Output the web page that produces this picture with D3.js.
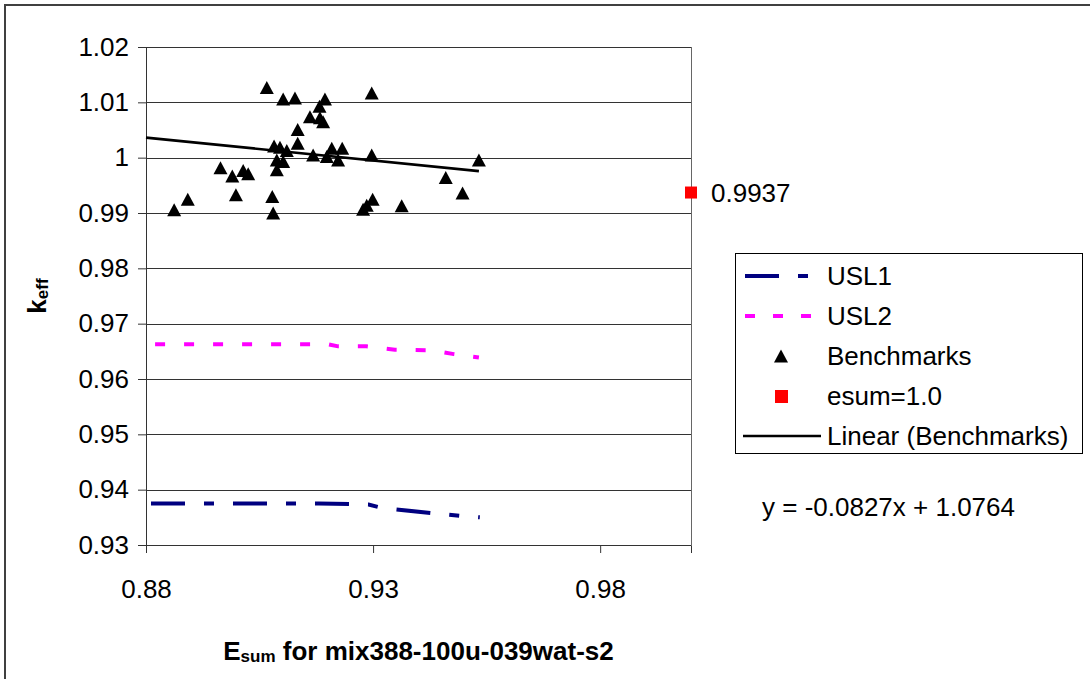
<!DOCTYPE html>
<html>
<head>
<meta charset="utf-8">
<script src="https://cdn.jsdelivr.net/npm/d3@7"></script>
<style>
  body { margin: 0; background: #fff; }
  svg { display: block; font-family: 'Liberation Sans', Arial, sans-serif; }
</style>
</head>
<body>
<svg width="1090" height="679"></svg>
<script>
// benchmark points (Esum, keff)
var benchX = [0.8862, 0.8892, 0.8964, 0.8990, 0.8998, 0.9014, 0.9025, 0.9066, 0.9078, 0.9080,
              0.9082, 0.9088, 0.9088, 0.9095, 0.9102, 0.9102, 0.9110, 0.9128, 0.9134, 0.9134,
              0.9161, 0.9168, 0.9182, 0.9183, 0.9190, 0.9194, 0.9198, 0.9209, 0.9223, 0.9232,
              0.9278, 0.9286, 0.9297, 0.9297, 0.9299, 0.9363, 0.9460, 0.9497, 0.9533]
var benchY = [0.9906, 0.9925, 0.9982, 0.9967, 0.9933, 0.9977, 0.9971, 1.0127, 0.9930, 0.9900,
              1.0021, 0.9996, 0.9978, 1.0019, 1.0106, 0.9993, 1.0013, 1.0108, 1.0051, 1.0026,
              1.0074, 1.0005, 1.0093, 1.0072, 1.0065, 1.0106, 1.0002, 1.0017, 0.9996, 1.0017,
              0.9907, 0.9914, 1.0117, 1.0005, 0.9925, 0.9913, 0.9964, 0.9936, 0.9996]

// upper subcritical limits
var usl1X = [0.8811, 0.9180, 0.9250, 0.9290, 0.9320, 0.9450, 0.9500, 0.9535]
var usl1Y = [0.9375, 0.9375, 0.9374, 0.9373, 0.9367, 0.9356, 0.9352, 0.9350]
var usl2X = [0.8820, 0.9200, 0.9223, 0.9285, 0.9348, 0.9425, 0.9478, 0.9533]
var usl2Y = [0.9663, 0.9663, 0.9659, 0.9659, 0.9653, 0.9652, 0.9645, 0.9639]

// esum = 1.0 point
var esumX = [1.0]
var esumY = [0.9937]

// linear trendline of the benchmarks
var trendSlope = -0.0827, trendIntercept = 1.0764
var trendX = [0.88, 0.9533]

var xTicks = [0.88, 0.93, 0.98]
var xTickLabels = ['0.88', '0.93', '0.98']
var yTicks = [0.93, 0.94, 0.95, 0.96, 0.97, 0.98, 0.99, 1.0, 1.01, 1.02]
var yTickLabels = ['0.93', '0.94', '0.95', '0.96', '0.97', '0.98', '0.99', '1', '1.01', '1.02']

var svg = d3.select('svg')
var fs = 26

var x = d3.scaleLinear().domain([0.88, 1.0]).range([146, 691])
var y = d3.scaleLinear().domain([0.93, 1.02]).range([545, 47])

// outer chart border (right / bottom fall outside the picture)
svg.append('rect')
    .attr('x', 5).attr('y', 5).attr('width', 1110).attr('height', 700)
    .attr('fill', 'none').attr('stroke', '#404040').attr('stroke-width', 2)

// gridlines
svg.append('g').selectAll('line')
    .data(yTicks)
  .enter().append('line')
    .attr('x1', x(0.88)).attr('x2', x(1.0))
    .attr('y1', function(d) { return Math.round(y(d)) + 0.5 })
    .attr('y2', function(d) { return Math.round(y(d)) + 0.5 })
    .attr('stroke', '#333').attr('stroke-width', 1)

svg.append('line')
    .attr('x1', x(1.0) + 0.5).attr('x2', x(1.0) + 0.5)
    .attr('y1', y(1.02)).attr('y2', y(0.93))
    .attr('stroke', '#666')

// axes
var yAxis = svg.append('g')
    .attr('transform', 'translate(' + x(0.88) + ',0)')
    .call(d3.axisLeft(y).tickValues(yTicks).tickSize(8).tickPadding(9)
      .tickFormat(function(d, i) { return yTickLabels[i] }))
var xAxis = svg.append('g')
    .attr('transform', 'translate(0,' + y(0.93) + ')')
    .call(d3.axisBottom(x).tickValues(xTicks).tickSize(8).tickPadding(27)
      .tickFormat(function(d, i) { return xTickLabels[i] }))

svg.selectAll('.domain').attr('stroke', '#333')
svg.selectAll('.tick line').attr('stroke', '#333')
svg.selectAll('.tick text')
    .attr('font-family', "'Liberation Sans', Arial, sans-serif")
    .attr('font-size', fs).attr('fill', '#000')

// USL lines
var line = d3.line()
    .x(function(d) { return x(d[0]) })
    .y(function(d) { return y(d[1]) })

svg.append('path')
    .datum(d3.zip(usl1X, usl1Y))
    .attr('d', line)
    .attr('fill', 'none').attr('stroke', '#000080').attr('stroke-width', 4)
    .attr('stroke-dasharray', '34,19,10,19')

svg.append('path')
    .datum(d3.zip(usl2X, usl2Y))
    .attr('d', line)
    .attr('fill', 'none').attr('stroke', '#ff00ff').attr('stroke-width', 4)
    .attr('stroke-dasharray', '10,19')

// trendline
svg.append('path')
    .datum(trendX.map(function(v) { return [v, trendSlope * v + trendIntercept] }))
    .attr('d', line)
    .attr('fill', 'none').attr('stroke', '#000').attr('stroke-width', 2.7)

// benchmarks
var tri = 'M0,-6.5L7,6.5L-7,6.5Z'
svg.append('g').selectAll('path')
    .data(d3.zip(benchX, benchY))
  .enter().append('path')
    .attr('d', tri)
    .attr('transform', function(d) { return 'translate(' + x(d[0]) + ',' + y(d[1]) + ')' })
    .attr('fill', '#000')

// esum point
svg.append('g').selectAll('rect')
    .data(d3.zip(esumX, esumY))
  .enter().append('rect')
    .attr('x', function(d) { return x(d[0]) - 6 })
    .attr('y', function(d) { return y(d[1]) - 6 })
    .attr('width', 12).attr('height', 12)
    .attr('fill', '#ff0000')

svg.append('text')
    .attr('x', x(esumX[0]) + 20).attr('y', y(esumY[0]))
    .attr('dy', '0.35em')
    .attr('font-size', fs)
    .text(d3.format('.4f')(esumY[0]))

// axis titles
var xt = svg.append('text')
    .attr('x', (x(0.88) + x(1.0)) / 2).attr('y', 660)
    .attr('text-anchor', 'middle')
    .attr('font-size', fs).attr('font-weight', 'bold')
xt.append('tspan').text('E')
xt.append('tspan').attr('font-size', 17).attr('dy', 2).text('sum')
xt.append('tspan').attr('dy', -2).text(' for mix388-100u-039wat-s2')

var yt = svg.append('text')
    .attr('transform', 'translate(46,' + (y(0.93) + y(1.02)) / 2 + ') rotate(-90)')
    .attr('text-anchor', 'middle')
    .attr('font-size', fs).attr('font-weight', 'bold')
yt.append('tspan').text('k')
yt.append('tspan').attr('font-size', 17).attr('dy', 2).text('eff')

// legend
var legend = svg.append('g').attr('transform', 'translate(735,253)')
legend.append('rect')
    .attr('x', 0.5).attr('y', 0.5).attr('width', 347).attr('height', 200)
    .attr('fill', '#fff').attr('stroke', '#000')

var items = [
  { label: 'USL1', type: 'usl1' },
  { label: 'USL2', type: 'usl2' },
  { label: 'Benchmarks', type: 'tri' },
  { label: 'esum=1.0', type: 'sq' },
  { label: 'Linear (Benchmarks)', type: 'trend' }
]

var row = legend.selectAll('.item')
    .data(items)
  .enter().append('g')
    .attr('class', 'item')
    .attr('transform', function(d, i) { return 'translate(0,' + (23 + i * 40) + ')' })

row.append('text')
    .attr('x', 92).attr('dy', '0.35em')
    .attr('font-size', fs)
    .text(function(d) { return d.label })

row.each(function(d) {
  var g = d3.select(this)
  if (d.type == 'usl1') {
    g.append('line').attr('x1', 10).attr('x2', 73).attr('stroke', '#000080')
      .attr('stroke-width', 4).attr('stroke-dasharray', '34,19,10,19')
  } else if (d.type == 'usl2') {
    g.append('line').attr('x1', 10).attr('x2', 77).attr('stroke', '#ff00ff')
      .attr('stroke-width', 4).attr('stroke-dasharray', '10,18')
  } else if (d.type == 'tri') {
    g.append('path').attr('d', tri).attr('transform', 'translate(46,0)').attr('fill', '#000')
  } else if (d.type == 'sq') {
    g.append('rect').attr('x', 40).attr('y', -6).attr('width', 13).attr('height', 13).attr('fill', '#ff0000')
  } else {
    g.append('line').attr('x1', 8).attr('x2', 86).attr('stroke', '#000').attr('stroke-width', 2.7)
  }
})

// trendline equation
svg.append('text')
    .attr('x', 762).attr('y', 507).attr('dy', '0.35em')
    .attr('font-size', fs)
    .text('y = ' + trendSlope + 'x + ' + trendIntercept)
</script>
</body>
</html>
